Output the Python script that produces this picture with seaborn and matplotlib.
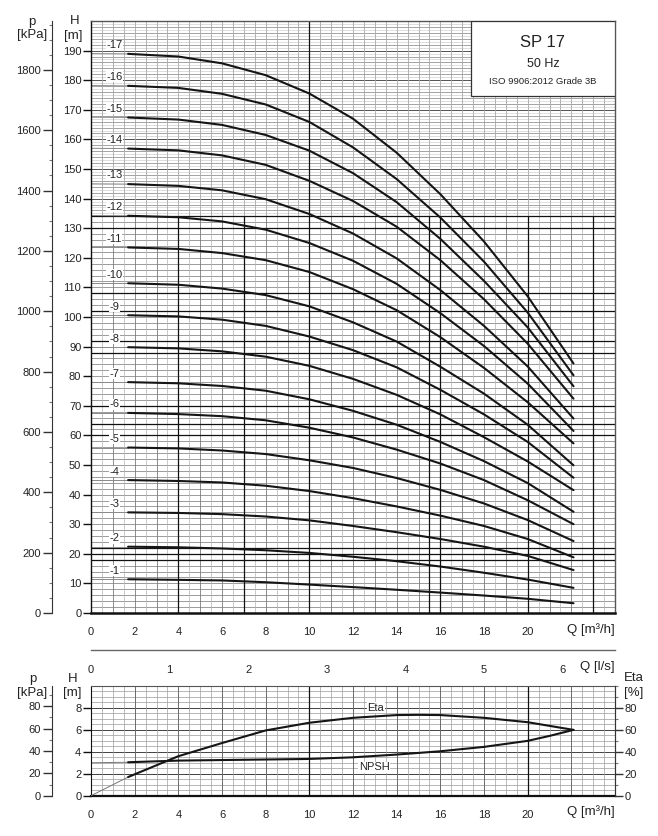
import numpy as np
import pandas as pd
import matplotlib.pyplot as plt
from matplotlib.patches import Rectangle
from matplotlib.ticker import MultipleLocator
import seaborn as sns

sns.set_style('white')
plt.rcParams['font.family'] = ['Liberation Sans', 'DejaVu Sans']

# Flow points (m3/h) at which the head curves were read
q_head = [0, 1.7, 4, 6, 8, 10, 12, 14, 16, 18, 20, 22.1]

# Head (m) for each number of stages
h01 = [11.4, 11.4, 11.2, 11.0, 10.4, 9.6, 8.75, 7.85, 6.9, 5.9, 4.8, 3.3]
h02 = [22.4, 22.4, 22.2, 21.8, 21.2, 20.3, 19.0, 17.5, 15.7, 13.6, 11.3, 8.5]
h03 = [34.0, 34.0, 33.8, 33.4, 32.6, 31.3, 29.4, 27.3, 25.0, 22.4, 19.3, 14.5]
h04 = [44.9, 44.9, 44.6, 44.1, 43.0, 41.2, 38.8, 36.0, 32.9, 29.4, 25.0, 18.8]
h05 = [55.9, 55.9, 55.6, 54.9, 53.7, 51.6, 49.0, 45.6, 41.6, 37.0, 31.4, 24.3]
h06 = [67.6, 67.6, 67.2, 66.5, 65.1, 62.6, 59.3, 55.2, 50.5, 44.9, 38.1, 30.0]
h07 = [78.0, 78.0, 77.6, 76.7, 75.1, 72.2, 68.3, 63.6, 57.8, 51.3, 43.9, 34.2]
h08 = [89.8, 89.8, 89.4, 88.4, 86.6, 83.5, 79.1, 73.7, 67.1, 59.4, 51.2, 41.5]
h09 = [100.6, 100.6, 100.2, 99.1, 97.0, 93.4, 88.8, 83.0, 75.4, 67.1, 57.8, 45.7]
h10 = [111.4, 111.4, 110.9, 109.6, 107.4, 103.6, 98.2, 91.7, 83.2, 74.1, 63.6, 49.9]
h11 = [123.5, 123.5, 123.0, 121.6, 119.2, 115.2, 109.4, 102.3, 93.2, 82.8, 71.2, 57.3]
h12 = [134.3, 134.2, 133.7, 132.3, 129.5, 125.0, 119.0, 111.2, 101.3, 90.2, 77.5, 61.5]
h13 = [145.0, 144.9, 144.3, 142.8, 139.8, 134.8, 128.2, 119.8, 109.1, 97.0, 83.3, 65.7]
h14 = [157.0, 156.9, 156.3, 154.6, 151.4, 146.0, 139.2, 130.5, 119.2, 106.0, 91.0, 72.4]
h15 = [167.5, 167.4, 166.7, 164.9, 161.5, 156.2, 148.6, 138.8, 126.4, 112.2, 96.5, 76.6]
h16 = [178.2, 178.1, 177.4, 175.4, 171.8, 165.9, 157.3, 146.6, 133.6, 118.7, 101.5, 80.3]
h17 = [189.0, 188.9, 188.0, 185.7, 181.7, 175.5, 167.0, 155.5, 141.5, 125.5, 107.0, 84.3]
stage_heads = [h01, h02, h03, h04, h05, h06, h07, h08, h09, h10, h11, h12, h13, h14, h15, h16, h17]
stage_labels = ['-%d' % n for n in range(1, 18)]

# Efficiency (%) and NPSH (m) curves
q_eta = [0, 1.7, 2, 4, 6, 8, 10, 12, 14, 15, 16, 18, 20, 22.1]
eta = [0, 17, 19.5, 36, 48, 59.5, 66.5, 71, 73.5, 73.7, 73.5, 71, 67, 60]
q_npsh = [0, 1.7, 4, 6, 8, 10, 12, 14, 16, 18, 20, 21, 22.1]
npsh = [3.0, 3.05, 3.2, 3.25, 3.3, 3.35, 3.5, 3.75, 4.05, 4.45, 5.0, 5.45, 6.0]

x_ticks = [0, 2, 4, 6, 8, 10, 12, 14, 16, 18, 20, 22, 24]
x_ticklabels = ['0', '2', '4', '6', '8', '10', '12', '14', '16', '18', '20', '', '']

rows = []
for lab, h in zip(stage_labels, stage_heads):
    for q, v in zip(q_head, h):
        rows.append((lab, q, v))
df = pd.DataFrame(rows, columns=['stage', 'Q', 'H'])

W, H = 658, 836
fig = plt.figure(figsize=(W / 100, H / 100), dpi=100)

def fx(px):
    return px / W

def fy(py):
    return 1 - py / H

txt = '#222222'

# ---------------- top chart: head curves ----------------
ax = fig.add_axes([fx(91), fy(613), (615 - 91) / W, (613 - 21) / H])
ax.set_xlim(0, 24)
ax.set_ylim(0, 200)

# fine grid in the upper part
ax.hlines(np.arange(135, 200, 1), 0, 24, colors='#d2d2d2', lw=0.5, zorder=0)
ax.hlines(np.arange(134, 200, 2), 0, 24, colors='#9a9a9a', lw=0.6, zorder=0)
ax.hlines(np.arange(140, 200, 10), 0, 24, colors='#555555', lw=0.7, zorder=0)
ax.vlines(np.arange(0.5, 24, 0.5), 134, 200, colors='#a8a8a8', lw=0.6, zorder=0)
# coarser grid in the lower part
ax.hlines(np.arange(2, 134, 2), 0, 24, colors='#8c8c8c', lw=0.6, zorder=0)
ax.vlines(np.arange(0.5, 24, 1), 0, 134, colors='#b4b4b4', lw=0.5, zorder=0)
ax.vlines(np.arange(1, 24, 1), 0, 134, colors='#7a7a7a', lw=0.6, zorder=0)
ax.hlines([18, 20, 22, 60, 64, 70, 88, 92, 102, 108, 130, 134], 0, 24, colors='#111111', lw=0.9, zorder=0)
ax.vlines([4, 7, 15.5, 16, 20, 23], 0, 134, colors='#111111', lw=0.9, zorder=0)
ax.vlines([10], 0, 200, colors='#111111', lw=0.9, zorder=0)

thin = df[df['Q'] <= 1.7]
thick = df[df['Q'] >= 1.7]
sns.lineplot(data=thin, x='Q', y='H', units='stage', estimator=None, color='#8a8a8a',
             lw=0.7, ax=ax, legend=False, zorder=2)
sns.lineplot(data=thick, x='Q', y='H', units='stage', estimator=None, color='#151515',
             lw=1.5, ax=ax, legend=False, zorder=2)

for lab, h in zip(stage_labels, stage_heads):
    ax.text(1.07, h[0] + 2.9, lab, fontsize=8, color=txt, ha='center', va='center', zorder=3,
            bbox=dict(facecolor='white', edgecolor='none', pad=0.3))

ax.set_xlabel('')
ax.set_ylabel('')
ax.set_xticks(x_ticks)
ax.set_xticklabels(x_ticklabels)
ax.xaxis.set_minor_locator(MultipleLocator(1))
ax.set_yticks(range(0, 200, 10))
ax.tick_params(axis='x', which='major', length=5, width=1, color='#111111', labelsize=8,
               labelcolor=txt, pad=5)
ax.tick_params(axis='x', which='minor', length=2.5, width=0.8, color='#111111')
ax.tick_params(axis='y', which='major', length=5.5, width=1, color='#111111', labelsize=8,
               labelcolor=txt, pad=1.5)
for s in ['top', 'right']:
    ax.spines[s].set_color('#555555')
    ax.spines[s].set_linewidth(1.0)
ax.spines['bottom'].set_color('#111111')
ax.spines['bottom'].set_linewidth(1.8)
ax.spines['left'].set_color('#111111')
ax.spines['left'].set_linewidth(1.0)

# pressure axis
axp = ax.twinx()
axp.set_ylim(0, 200 * 9.81)
axp.yaxis.tick_left()
axp.spines['left'].set_position(('outward', 28))
for s in ['top', 'right', 'bottom']:
    axp.spines[s].set_visible(False)
axp.spines['left'].set_color('#333333')
axp.set_yticks(range(0, 1900, 200))
axp.yaxis.set_minor_locator(MultipleLocator(50))
axp.tick_params(axis='y', which='major', length=6.5, width=1, color='#333333', labelsize=8,
                labelcolor=txt, pad=1.5)
axp.tick_params(axis='y', which='minor', length=2.5, width=0.8, color='#777777')

# title box
ax.add_patch(Rectangle((17.4, 174.5), 6.6, 25.5, facecolor='white', edgecolor='#333333',
                       lw=0.9, zorder=4))
ax.text(20.7, 192.6, 'SP 17', fontsize=12, ha='center', va='center', color=txt, zorder=5)
ax.text(20.7, 185.6, '50 Hz', fontsize=9, ha='center', va='center', color=txt, zorder=5)
ax.text(20.7, 179.6, 'ISO 9906:2012 Grade 3B', fontsize=6.8, ha='center', va='center',
        color=txt, zorder=5)

fig.text(fx(32), fy(22), 'p', fontsize=9.5, ha='center', va='center', color=txt)
fig.text(fx(32), fy(35), '[kPa]', fontsize=9.5, ha='center', va='center', color=txt)
fig.text(fx(75), fy(21), 'H', fontsize=9.5, ha='center', va='center', color=txt)
fig.text(fx(73), fy(36), '[m]', fontsize=9.5, ha='center', va='center', color=txt)
fig.text(fx(615), fy(630), 'Q [m³/h]', fontsize=9.5, ha='right', va='center', color=txt)

# ---------------- flow axis in l/s ----------------
axl = fig.add_axes([fx(91), fy(650), (615 - 91) / W, 0.0001])
axl.set_xlim(0, 24 / 3.6)
axl.set_yticks([])
for s in ['top', 'right', 'left']:
    axl.spines[s].set_visible(False)
axl.spines['bottom'].set_color('#666666')
axl.spines['bottom'].set_linewidth(1.0)
axl.set_xticks(range(0, 7))
axl.xaxis.set_minor_locator(MultipleLocator(0.2))
axl.tick_params(axis='x', which='major', length=5.5, width=1.2, color='#333333', labelsize=8,
                labelcolor=txt, pad=5)
axl.tick_params(axis='x', which='minor', length=2, width=0.8, color='#888888')
fig.text(fx(615), fy(667), 'Q [l/s]', fontsize=9.5, ha='right', va='center', color=txt)

# ---------------- bottom chart: efficiency and NPSH ----------------
axb = fig.add_axes([fx(91), fy(795.7), (615 - 91) / W, (795.7 - 686) / H])
axb.set_xlim(0, 24)
axb.set_ylim(0, 10)
axb.hlines(np.arange(0.5, 10, 0.5), 0, 24, colors='#9a9a9a', lw=0.5, zorder=0)
axb.hlines(np.arange(2, 10, 2), 0, 24, colors='#444444', lw=0.7, zorder=0)
axb.vlines(np.arange(0.5, 24, 0.5), 0, 10, colors='#a0a0a0', lw=0.5, zorder=0)
axb.vlines(np.arange(2, 24, 2), 0, 10, colors='#606060', lw=0.6, zorder=0)
axb.vlines([10, 20], 0, 10, colors='#111111', lw=0.9, zorder=0)

npsh_df = pd.DataFrame({'Q': q_npsh, 'NPSH': npsh})
sns.lineplot(data=npsh_df[npsh_df['Q'] <= 1.7], x='Q', y='NPSH', color='#777777', lw=0.7,
             ax=axb, zorder=2)
sns.lineplot(data=npsh_df[npsh_df['Q'] >= 1.7], x='Q', y='NPSH', color='#151515', lw=1.5,
             ax=axb, zorder=2)
axb.text(12.97, 2.6, 'NPSH', fontsize=8, ha='center', va='center', color=txt, zorder=3,
         bbox=dict(facecolor='white', edgecolor='none', pad=0.3))
axb.set_xlabel('')
axb.set_ylabel('')
axb.set_xticks(x_ticks)
axb.set_xticklabels(x_ticklabels)
axb.xaxis.set_minor_locator(MultipleLocator(1))
axb.set_yticks([0, 2, 4, 6, 8])
axb.tick_params(axis='x', which='major', length=5, width=1, color='#111111', labelsize=8,
                labelcolor=txt, pad=5)
axb.tick_params(axis='x', which='minor', length=2.5, width=0.8, color='#111111')
axb.tick_params(axis='y', which='major', length=5.5, width=1, color='#111111', labelsize=8,
                labelcolor=txt, pad=1.5)
for s in ['top', 'right']:
    axb.spines[s].set_color('#555555')
axb.spines['bottom'].set_color('#111111')
axb.spines['bottom'].set_linewidth(1.6)
axb.spines['left'].set_color('#111111')

axe = axb.twinx()
axe.set_ylim(0, 100)
eta_df = pd.DataFrame({'Q': q_eta, 'Eta': eta})
sns.lineplot(data=eta_df[eta_df['Q'] <= 1.7], x='Q', y='Eta', color='#777777', lw=0.7,
             ax=axe, zorder=2)
sns.lineplot(data=eta_df[eta_df['Q'] >= 1.7], x='Q', y='Eta', color='#151515', lw=1.5,
             ax=axe, zorder=2)
axe.text(13.05, 80, 'Eta', fontsize=8, ha='center', va='center', color=txt, zorder=3,
         bbox=dict(facecolor='white', edgecolor='none', pad=0.3))
axe.set_xlabel('')
axe.set_ylabel('')
axe.set_yticks(range(0, 81, 20))
axe.yaxis.set_minor_locator(MultipleLocator(10))
axe.tick_params(axis='y', which='major', length=5.5, width=1, color='#333333', labelsize=8,
                labelcolor=txt, pad=1.5)
axe.tick_params(axis='y', which='minor', length=2.5, width=0.8, color='#777777')
for s in ['top', 'left', 'bottom']:
    axe.spines[s].set_visible(False)
axe.spines['right'].set_color('#333333')

axbp = axb.twinx()
axbp.set_ylim(0, 10 * 9.81)
axbp.yaxis.tick_left()
axbp.spines['left'].set_position(('outward', 28))
for s in ['top', 'right', 'bottom']:
    axbp.spines[s].set_visible(False)
axbp.spines['left'].set_color('#333333')
axbp.set_yticks(range(0, 81, 20))
axbp.yaxis.set_minor_locator(MultipleLocator(10))
axbp.tick_params(axis='y', which='major', length=6.5, width=1, color='#333333', labelsize=8,
                 labelcolor=txt, pad=1.5)
axbp.tick_params(axis='y', which='minor', length=2.5, width=0.8, color='#777777')

fig.text(fx(33), fy(679), 'p', fontsize=9.5, ha='center', va='center', color=txt)
fig.text(fx(32), fy(693), '[kPa]', fontsize=9.5, ha='center', va='center', color=txt)
fig.text(fx(73), fy(679), 'H', fontsize=9.5, ha='center', va='center', color=txt)
fig.text(fx(72), fy(693), '[m]', fontsize=9.5, ha='center', va='center', color=txt)
fig.text(fx(624), fy(678), 'Eta', fontsize=9.5, ha='left', va='center', color=txt)
fig.text(fx(624), fy(693), '[%]', fontsize=9.5, ha='left', va='center', color=txt)
fig.text(fx(615), fy(812), 'Q [m³/h]', fontsize=9.5, ha='right', va='center', color=txt)

fig.savefig('out.png', dpi=100, facecolor='white')
